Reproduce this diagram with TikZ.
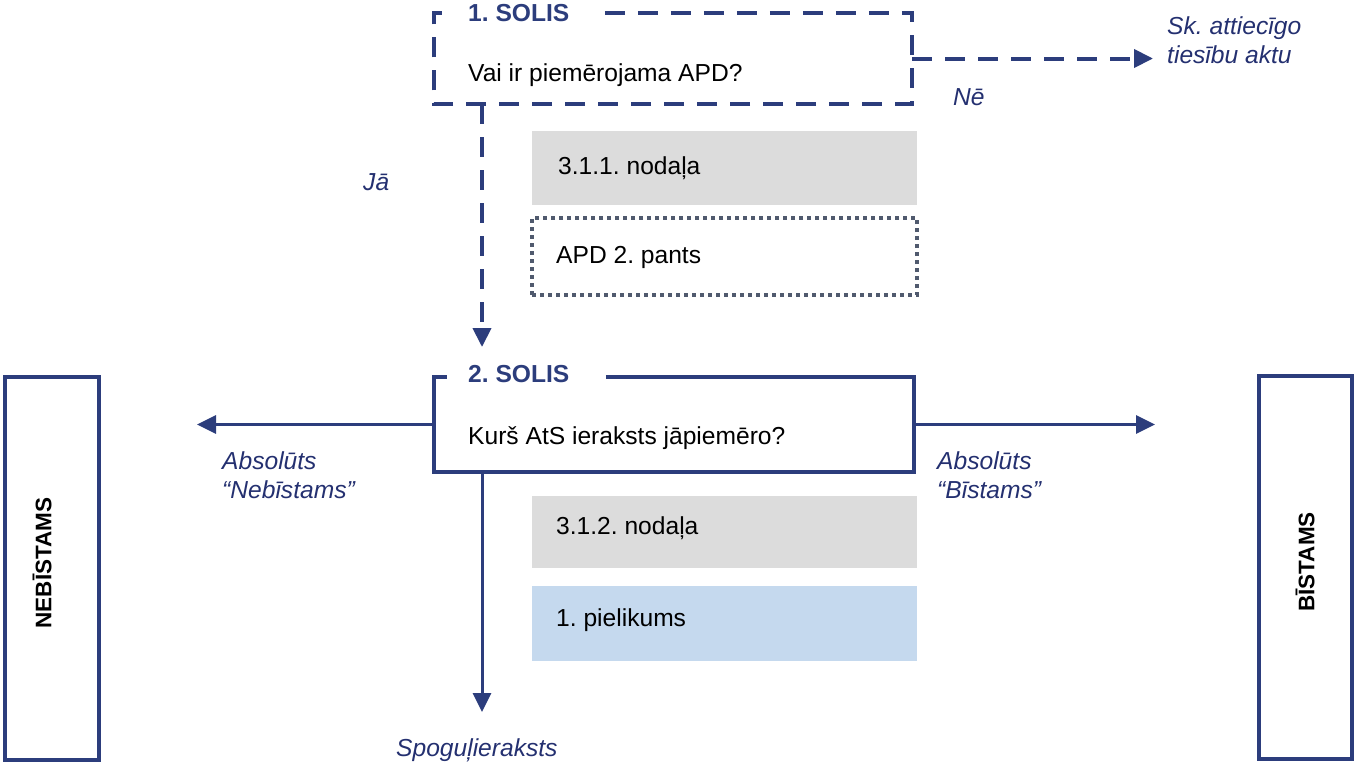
\documentclass[tikz,border=0pt]{standalone}
\usepackage{fontspec}
\setmainfont{Liberation Sans}
\usetikzlibrary{arrows.meta}
\frenchspacing
\definecolor{navy}{RGB}{44,61,124}
\definecolor{labnavy}{RGB}{36,48,112}
\definecolor{dotgray}{RGB}{80,90,110}
\definecolor{boxgray}{RGB}{220,220,220}
\definecolor{boxblue}{RGB}{197,217,238}
\tikzset{
  big/.style={font=\fontsize{24.6}{29.5}\selectfont},
  dashline/.style={draw=navy,line width=4pt,dash pattern=on 20pt off 13pt},
  solidline/.style={draw=navy,line width=4pt},
  tip/.style={-{Triangle[length=19pt,width=18pt]}},
  thinarrow/.style={draw=navy,line width=3pt},
  steptitle/.style={font=\fontsize{24.6}{29.5}\selectfont\bfseries,text=navy,anchor=west,inner sep=0pt},
  boxtext/.style={big,text=black,anchor=west,inner sep=0pt},
  lab/.style={font=\fontsize{24.6}{29.5}\selectfont\itshape,text=labnavy,anchor=west,inner sep=0pt,align=left},
  infobox/.style={minimum width=385pt,inner sep=0pt,draw=none},
  sidebox/.style={draw=navy,line width=4pt,fill=white,inner sep=0pt},
  sidetext/.style={font=\fontsize{22.5}{27}\selectfont\bfseries,text=black,rotate=90,inner sep=0pt}
}
\begin{document}
\begin{tikzpicture}[x=1pt,y=-1pt]
\useasboundingbox (0,0) rectangle (1356,764);
% step 1 box
\node[minimum width=478pt,minimum height=91pt,inner sep=0pt] (box1) at (673,58.5) {};
\draw[dashline] ([xshift=171pt]box1.north west) -| (box1.south east) -| (box1.north west) -- ++(14pt,0);
\node[steptitle] (t1) at (468,13) {1. SOLIS};
\node[boxtext] (q1) at (468,75) {Vai ir piemērojama APD?};
% Ne arrow
\coordinate (skend) at (1153,58.5);
\draw[dashline,tip] (box1.east) -- (skend);
\node[lab] (sk) at (1167,40) {Sk. attiecīgo\\tiesību aktu};
\node[lab] (ne) at (953,97) {Nē};
% Ja arrow
\coordinate (jatip) at (482,347);
\draw[dashline,tip] (box1.south -| jatip) -- (jatip);
\node[lab] (ja) at (363,182) {Jā};
% info boxes step 1
\node[infobox,fill=boxgray,minimum height=74pt] (n311) at (724.5,168) {};
\node[boxtext] (n311t) at (558,168) {3.1.1. nodaļa};
\node[infobox,draw=dotgray,line width=3.5pt,dash pattern=on 4pt off 4pt,minimum height=77pt] (apd) at (724.5,256.5) {};
\node[boxtext] (apdt) at (556,257) {APD 2. pants};
% step 2 box
\node[minimum width=480pt,minimum height=95pt,inner sep=0pt] (box2) at (674,424.5) {};
\draw[solidline] ([xshift=172pt]box2.north west) -| (box2.south east) -| (box2.north west) -- ++(13pt,0);
\node[steptitle] (t2) at (468,374) {2. SOLIS};
\node[boxtext] (q2) at (468,438) {Kurš AtS ieraksts jāpiemēro?};
% side boxes
\node[sidebox,minimum width=94pt,minimum height=383pt] (neb) at (52,568) {};
\node[sidetext] (nebt) at (42,563) {NEBĪSTAMS};
\node[sidebox,minimum width=93pt,minimum height=383pt] (bis) at (1305,567) {};
\node[sidetext] (bist) at (1305,562) {BĪSTAMS};
% arrows step 2
\coordinate (ltip) at (197,424.5);
\coordinate (rtip) at (1155,424.5);
\coordinate (dtip) at (482,712);
\draw[thinarrow,tip] (box2.west) -- (ltip);
\draw[thinarrow,tip] (box2.east) -- (rtip);
\draw[thinarrow,tip] (box2.south -| dtip) -- (dtip);
\node[lab] (abn) at (222,475) {Absolūts\\“Nebīstams”};
\node[lab] (abb) at (937,475) {Absolūts\\“Bīstams”};
\node[lab] (spog) at (396,750) {Spoguļieraksts};
% info boxes step 2
\node[infobox,fill=boxgray,minimum height=72pt] (n312) at (724.5,532) {};
\node[boxtext] (n312t) at (556,528) {3.1.2. nodaļa};
\node[infobox,fill=boxblue,minimum height=75pt] (pel) at (724.5,623.5) {};
\node[boxtext] (pelt) at (556,620) {1. pielikums};
\end{tikzpicture}
\end{document}
